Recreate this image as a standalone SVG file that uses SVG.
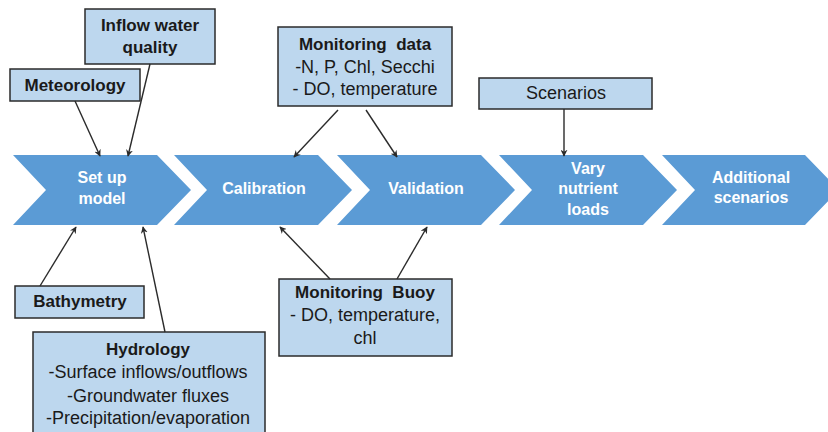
<svg xmlns="http://www.w3.org/2000/svg" width="828" height="432" viewBox="0 0 828 432">
<style>
.chev{fill:#5B9BD5}
.ct{font-family:"Liberation Sans",Arial,sans-serif;font-weight:bold;font-size:16px;fill:#fff;text-anchor:middle}
.box{fill:#BDD7EE;stroke:#2b2b2b;stroke-width:1.5}
.bt{font-family:"Liberation Sans",Arial,sans-serif;font-weight:bold;font-size:17px;fill:#1a1a1a;text-anchor:middle}
.nt{font-family:"Liberation Sans",Arial,sans-serif;font-size:18px;fill:#1a1a1a;text-anchor:middle}
.conn line{stroke:#2b2b2b;stroke-width:1.4;marker-end:url(#ah)}
</style>
<defs>
<marker id="ah" viewBox="0 0 10 10" refX="9" refY="5" markerWidth="7" markerHeight="7" markerUnits="userSpaceOnUse" orient="auto">
<path d="M0,0 L10,5 L0,10 L3,5 Z" fill="#2b2b2b"/>
</marker>
</defs>
<rect width="828" height="432" fill="#fff"/>

<g id="setup">
<polygon class="chev" points="13,155 157,155 191,190 157,225 13,225 46,190"/>
<text class="ct" x="102" y="183">Set up</text>
<text class="ct" x="102" y="204">model</text>
</g>
<g id="calibration">
<polygon class="chev" points="174,155 318,155 352,190 318,225 174,225 207,190"/>
<text class="ct" x="264" y="194">Calibration</text>
</g>
<g id="validation">
<polygon class="chev" points="337,155 481,155 515,190 481,225 337,225 370,190"/>
<text class="ct" x="426" y="194">Validation</text>
</g>
<g id="vary">
<polygon class="chev" points="499,155 643,155 677,190 643,225 499,225 532,190"/>
<text class="ct" x="588" y="174">Vary</text>
<text class="ct" x="588" y="194">nutrient</text>
<text class="ct" x="588" y="215">loads</text>
</g>
<g id="additional">
<polygon class="chev" points="662,155 805,155 839,190 805,225 662,225 695,190"/>
<text class="ct" x="751" y="183">Additional</text>
<text class="ct" x="751" y="203">scenarios</text>
</g>

<g id="inflow">
<rect class="box" x="85" y="9" width="130" height="55"/>
<text class="bt" x="150" y="31">Inflow water</text>
<text class="bt" x="150" y="53">quality</text>
</g>
<g id="meteorology">
<rect class="box" x="10" y="69" width="130" height="32"/>
<text class="bt" x="75" y="91">Meteorology</text>
</g>
<g id="monitoring-data">
<rect class="box" x="278" y="27" width="174" height="79"/>
<text class="bt" x="365" y="50" xml:space="preserve">Monitoring  data</text>
<text class="nt" x="365" y="73">-N, P, Chl, Secchi</text>
<text class="nt" x="365" y="95">- DO, temperature</text>
</g>
<g id="scenarios">
<rect class="box" x="479" y="78" width="173" height="31"/>
<text class="nt" x="566" y="99">Scenarios</text>
</g>
<g id="bathymetry">
<rect class="box" x="15" y="286" width="129" height="32"/>
<text class="bt" x="80" y="307">Bathymetry</text>
</g>
<g id="hydrology">
<rect class="box" x="33" y="332" width="232" height="110"/>
<text class="bt" x="148" y="355">Hydrology</text>
<text class="nt" x="148" y="378">-Surface inflows/outflows</text>
<text class="nt" x="148" y="402">-Groundwater fluxes</text>
<text class="nt" x="148" y="424">-Precipitation/evaporation</text>
</g>
<g id="monitoring-buoy">
<rect class="box" x="279" y="279" width="173" height="77"/>
<text class="bt" x="365" y="298" xml:space="preserve">Monitoring  Buoy</text>
<text class="nt" x="365" y="321">- DO, temperature,</text>
<text class="nt" x="365" y="344">chl</text>
</g>

<g id="connectors" class="conn">
<line x1="75" y1="101" x2="100" y2="156"/>
<line x1="150" y1="64" x2="128" y2="156"/>
<line x1="338" y1="110" x2="294" y2="157"/>
<line x1="366" y1="110" x2="397" y2="157"/>
<line x1="564" y1="109" x2="564" y2="156"/>
<line x1="40" y1="286" x2="76" y2="227"/>
<line x1="165" y1="332" x2="143" y2="227"/>
<line x1="330" y1="279" x2="280" y2="227"/>
<line x1="397" y1="279" x2="427" y2="227"/>
</g>
</svg>
